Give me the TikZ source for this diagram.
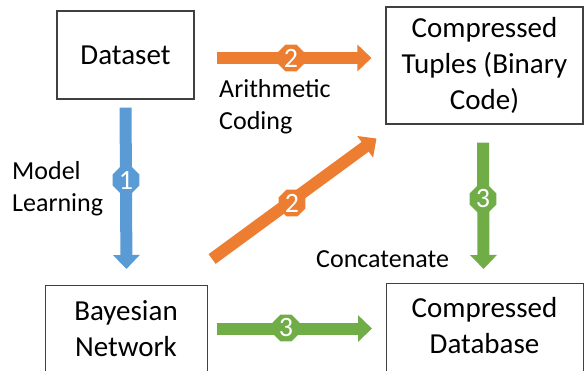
\documentclass[tikz,border=0pt]{standalone}
\usepackage{fontspec}
\setmainfont{Carlito}
\usetikzlibrary{arrows.meta,shapes.geometric,calc}
\definecolor{pblue}{HTML}{5B9BD5}
\definecolor{porange}{HTML}{ED7D31}
\definecolor{pgreen}{HTML}{70AD47}
\definecolor{boxgray}{HTML}{404040}
\begin{document}
\begin{tikzpicture}[x=1pt,y=1pt,
  box/.style={draw=boxgray, line width=1.1pt, inner sep=0pt},
  boxtext/.style={font=\fontsize{29}{36}\selectfont, align=center, inner sep=0pt},
  lbl/.style={font=\fontsize{26}{32}\selectfont, align=left, inner sep=0pt, anchor=west},
  flow/.style={line width=12pt, -{Triangle[width=26pt,length=14pt]}},
  badge/.style={regular polygon, regular polygon sides=8, minimum size=29pt, inner sep=0pt, text=white, font=\fontsize{28}{28}\selectfont}
]
\useasboundingbox (0,0) rectangle (584,371);
\clip (0,0) rectangle (584,371);

% boxes
\node[box, boxtext, minimum width=137pt, minimum height=88pt] (ds) at (125.5,316) {Dataset};
\node[box, boxtext, minimum width=197pt, minimum height=117pt] (tup) at (484.5,305.5) {Compressed\\Tuples (Binary\\Code)};
\node[box, minimum width=162pt, minimum height=100pt, anchor=north west] (bnbox) at (45,86) {};
\node[boxtext] (bn) at (126,42.5) {Bayesian\\Network};
\node[box, minimum width=197pt, minimum height=100pt, anchor=north west] (dbbox) at (386,88) {};
\node[boxtext] (db) at (484.5,45) {Compressed\\Database};

% arrows
\draw[flow, pblue, shorten <=8pt, shorten >=16pt] (ds.south) -- (bnbox.north);
\draw[flow, porange] ($(ds.east)+(22,-3)$) -- ($(tup.west)+(-14,7.5)$);
\draw[flow, porange] ($(bnbox.north east)+(4,26)$) -- ($(tup.south west)+(-9,-14)$);
\draw[flow, pgreen] ($(tup.south)+(-1.5,-18)$) -- ($(dbbox.north)+(-1.5,14)$);
\draw[flow, pgreen] ($(bnbox.east)+(9,7)$) -- ($(dbbox.west)+(-14,5)$);

% badges
\node[badge, fill=pblue] (n1) at (126,191) {1};
\node[badge, fill=porange] (n2a) at (291,313) {2};
\node[badge, fill=porange] (n2b) at (292,168) {2};
\node[badge, fill=pgreen] (n3a) at (483,172) {3};
\node[badge, fill=pgreen] (n3b) at (286,43) {3};

% labels
\node[lbl] (ac) at (219,264.5) {Arithmetic\\Coding};
\node[lbl] (ml) at (12,182.5) {Model\\Learning};
\node[lbl] (cc) at (316,112) {Concatenate};
\end{tikzpicture}
\end{document}
